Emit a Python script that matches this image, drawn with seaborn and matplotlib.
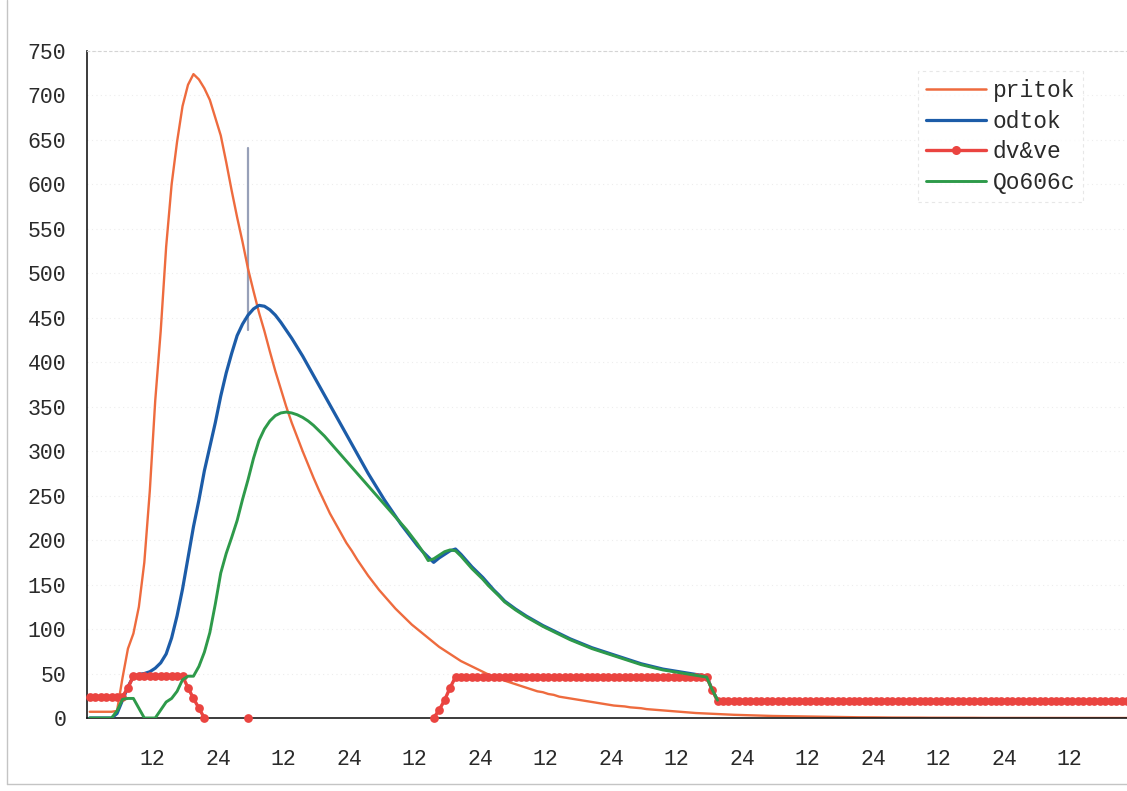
import numpy as np
import pandas as pd
import matplotlib
matplotlib.use("Agg")
import matplotlib.pyplot as plt
from matplotlib.lines import Line2D
import seaborn as sns

# ---------------- data ----------------
series_names = ["pritok", "odtok", "dv&ve", "Qo606c"]
series_colors = ["#EE6B3E", "#1C5CA8", "#EA4440", "#2E9A4A"]

x_tick_hours = [12, 24, 36, 48, 60, 72, 84, 96, 108, 120, 132, 144, 156, 168, 180]
x_tick_labels = ["12", "24", "12", "24", "12", "24", "12", "24", "12", "24",
                 "12", "24", "12", "24", "12"]
y_ticks = [0, 50, 100, 150, 200, 250, 300, 350, 400, 450, 500, 550, 600, 650, 700, 750]

pritok = [7, 7, 7, 7, 7, 8, 45, 78, 95, 125,
          175, 255, 357, 435, 530, 600, 648, 688, 712, 724,
          718, 708, 695, 675, 655, 625, 593, 563, 535, 505,
          480, 456, 435, 412, 390, 370, 350, 332, 316, 300,
          285, 270, 256, 243, 230, 219, 208, 197, 188, 178,
          169, 160, 152, 144, 137, 130, 123, 117, 111, 105,
          100, 95, 90, 85, 80, 76, 72, 68, 64, 61,
          58, 55, 52, 49, 46, 44, 42, 40, 38, 36,
          34, 32, 30, 29, 27, 26, 24, 23, 22, 21,
          20, 19, 18, 17, 16, 15, 14, 13.5, 13, 12,
          11.5, 11, 10, 9.5, 9, 8.5, 8, 7.5, 7, 6.5,
          6, 5.6, 5.3, 5, 4.7, 4.4, 4.1, 3.9, 3.6, 3.4,
          3.2, 3, 2.8, 2.6, 2.5, 2.3, 2.2, 2, 1.9, 1.8,
          1.7, 1.6, 1.5, 1.4, 1.3, 1.2, 1.1, 1.1, 1, 0.9,
          0.9, 0.8, 0.8, 0.7, 0.7, 0.6, 0.6, 0.5, 0.5, 0.5,
          0.4, 0.4, 0.4, 0.3, 0.3, 0.3, 0.3, 0.2, 0.2, 0.2,
          0.2, 0.2, 0.2, 0.1, 0.1, 0.1, 0.1, 0.1, 0.1, 0.1,
          0.1, 0.1, 0.1, 0, 0, 0, 0, 0, 0, 0,
          0, 0, 0, 0, 0, 0, 0, 0, 0, 0, 0]

odtok = [0, 0, 0, 0, 0, 5, 20, 35, 47, 49,
         50, 52, 56, 62, 72, 90, 115, 145, 180, 215,
         245, 278, 305, 332, 362, 388, 410, 430, 443, 453,
         460, 464, 463, 459, 453, 445, 436, 427, 417, 407,
         396, 385, 374, 363, 352, 341, 330, 319, 308, 297,
         286, 275, 265, 255, 245, 236, 227, 218, 210, 202,
         194, 187, 181, 175, 180, 184, 188, 190, 184, 177,
         170, 164, 158, 151, 144, 138, 131.5, 127, 122.5, 118.5,
         114.5, 111, 107.5, 104, 101, 98, 95, 92, 89, 86.5,
         84, 81.5, 79, 77, 75, 73, 71, 69, 67, 65,
         63, 61, 59.5, 58, 56.5, 55, 54, 53, 52, 51,
         50, 49, 48, 47, 32, 20]

qo606c = [0, 0, 0, 0, 0, 8, 21, 22, 22, 11,
          0, 0, 0, 9, 18, 22, 30, 43, 47, 47,
          58, 74, 96, 128, 163, 185, 203, 222, 246, 268,
          292, 312, 325, 334, 340, 343, 344, 343, 341, 338,
          334, 329, 323, 317, 310, 303, 296, 289, 282, 275,
          268, 261, 254, 247, 240, 233, 226, 219, 212, 204,
          196, 187, 177, 179, 183, 187, 189, 188, 182, 175,
          168, 162, 156, 149, 143, 137, 130.5, 126, 121.5, 117.5,
          113.5, 110, 106.5, 103, 100, 97, 94, 91, 88, 85.5,
          83, 80.5, 78, 76, 74, 72, 70, 68, 66, 64,
          62, 60, 58.5, 57, 55.5, 54, 53, 52, 51, 50,
          49, 48, 47, 46, 32, 20]

NA = np.nan
dv_ve = ([24] * 7 + [34] + [47] * 10 + [34, 22, 11, 0] + [NA] * 7 + [0] + [NA] * 33
         + [0, 9, 20, 34] + [46] * 47 + [32] + [19] * 76)

cursor_hour = [29.5, 29.5]
cursor_flow = [436, 641]

# ---------------- styling ----------------
sns.set_style("white")
plt.rcParams["font.family"] = ["Liberation Mono", "DejaVu Sans Mono"]

W, H = 1127, 791
fig = plt.figure(figsize=(W / 100, H / 100), dpi=100)
fig.patch.set_facecolor("white")
ax = fig.add_axes([87 / W, 1 - 718 / H, 1 - 87 / W, (718 - 51) / H])
ax.set_facecolor("white")

n_cat = len(dv_ve)
cat_center = np.arange(n_cat) + 0.5  # Excel category centres (hourly)

df_p = pd.DataFrame({"hour": cat_center[:len(pritok)], "flow": pritok})
df_o = pd.DataFrame({"hour": cat_center[:len(odtok)], "flow": odtok})
df_q = pd.DataFrame({"hour": cat_center[:len(qo606c)], "flow": qo606c})
df_r = pd.DataFrame({"hour": cat_center, "flow": dv_ve})
df_r["seg"] = df_r["flow"].isna().cumsum()
df_r = df_r.dropna()
df_c = pd.DataFrame({"hour": cursor_hour, "flow": cursor_flow, "seg": [0, 0]})

ax.yaxis.grid(True, color="#ededed", linestyle=(0, (1, 3)), linewidth=0.8)
ax.set_axisbelow(True)

sns.lineplot(data=df_c, x="hour", y="flow", units="seg", estimator=None,
             color="#97a0b8", linewidth=1.6, ax=ax, legend=False, zorder=1)
sns.lineplot(data=df_p, x="hour", y="flow", color=series_colors[0], linewidth=1.7,
             ax=ax, legend=False, zorder=2)
sns.lineplot(data=df_o, x="hour", y="flow", color=series_colors[1], linewidth=2.3,
             ax=ax, legend=False, zorder=3)
sns.lineplot(data=df_r, x="hour", y="flow", units="seg", estimator=None,
             color=series_colors[2], linewidth=2.4, marker="o", markersize=6.3,
             markeredgewidth=0, ax=ax, legend=False, zorder=4, clip_on=False)
sns.lineplot(data=df_q, x="hour", y="flow", color=series_colors[3], linewidth=2.1,
             ax=ax, legend=False, zorder=5)

ax.set_xlim(0, 190.5)
ax.set_ylim(0, 750)
ax.set_xticks(x_tick_hours)
ax.set_xticklabels(x_tick_labels)
ax.set_yticks(y_ticks)
ax.set_yticklabels([str(v) for v in y_ticks])
ax.set_xlabel("")
ax.set_ylabel("")

ax.tick_params(axis="x", direction="out", length=4, width=1, color="#222222",
               pad=18, labelsize=15.5, labelcolor="#2a2a2a")
ax.tick_params(axis="y", direction="out", length=5, width=1, color="#222222",
               pad=10, labelsize=15.5, labelcolor="#2a2a2a")

for side in ["left", "bottom"]:
    ax.spines[side].set_color("#1a1a1a")
    ax.spines[side].set_linewidth(1.2)
ax.spines["right"].set_visible(False)
ax.spines["top"].set_color("#d4d4d4")
ax.spines["top"].set_linewidth(0.8)
ax.spines["top"].set_linestyle((0, (2, 3)))

handles = [
    Line2D([], [], color=series_colors[0], linewidth=1.8),
    Line2D([], [], color=series_colors[1], linewidth=2.3),
    Line2D([], [], color=series_colors[2], linewidth=2.4, marker="o", markersize=6.5,
           markeredgewidth=0),
    Line2D([], [], color=series_colors[3], linewidth=2.1),
]
leg = ax.legend(handles, series_names, loc="upper left",
                bbox_to_anchor=(918 / W, 1 - 71 / H), bbox_transform=fig.transFigure,
                fontsize=16.5, frameon=True, fancybox=False, handlelength=2.6,
                handletextpad=0.3, labelspacing=0.33, borderpad=0.35,
                borderaxespad=0, numpoints=1)
leg.get_frame().set_edgecolor("#e2e2e2")
leg.get_frame().set_linewidth(0.8)
leg.get_frame().set_linestyle((0, (3, 3)))
for t in leg.get_texts():
    t.set_color("#2a2a2a")

# scanned page border
fig.add_artist(Line2D([7 / W, 7 / W], [1 - 784 / H, 1.0], color="#c4c4c4", linewidth=1,
                      transform=fig.transFigure))
fig.add_artist(Line2D([7 / W, 1.0], [1 - 784 / H, 1 - 784 / H], color="#c4c4c4",
                      linewidth=1, transform=fig.transFigure))

fig.savefig("out.png", dpi=100, facecolor="white")
